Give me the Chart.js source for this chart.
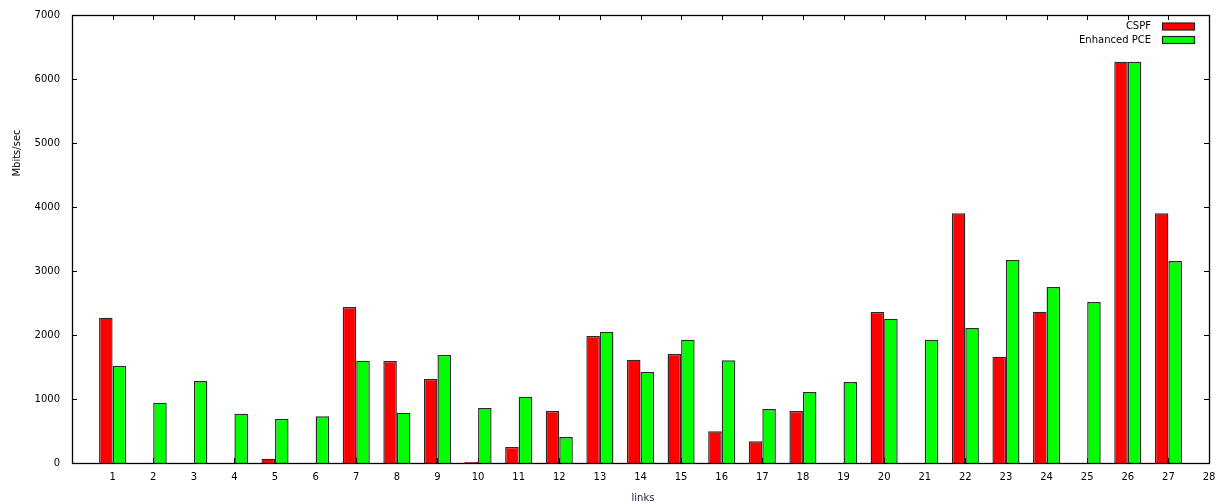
<!DOCTYPE html>
<html>
<head>
<meta charset="utf-8">
<script src="https://cdn.jsdelivr.net/npm/chart.js@4/dist/chart.umd.min.js"></script>
<style>
html,body{margin:0;padding:0;background:#fff;}
#wrap{width:1217px;height:504px;position:relative;}
</style>
</head>
<body>
<div id="wrap"><canvas id="c" width="1217" height="504"></canvas></div>
<script>
const links = [1,2,3,4,5,6,7,8,9,10,11,12,13,14,15,16,17,18,19,20,21,22,23,24,25,26,27];
const cspf = [2270,null,null,null,68,null,2437,1594,1313,15,250,812,1984,1615,1703,495,339,812,null,2359,null,3901,1661,2365,null,6271,3901];
const enhancedPce = [1520,942,1281,771,688,729,1599,786,1688,859,1036,406,2052,1422,1927,1604,844,1109,1266,2255,1927,2109,3172,2750,2516,6271,3156];
const seriesNames = ['CSPF','Enhanced PCE'];
const xTicks = [1,2,3,4,5,6,7,8,9,10,11,12,13,14,15,16,17,18,19,20,21,22,23,24,25,26,27,28];
const yTicks = [0,1000,2000,3000,4000,5000,6000,7000];
const xTitle = 'links';
const yTitle = 'Mbits/sec';

const FONT = 'DejaVu Sans';
Chart.defaults.font.family = FONT;
Chart.defaults.font.size = 10;
Chart.defaults.color = '#000';

function pts(vals){ return links.map((l,i)=>({x:l,y:vals[i]})); }

const frame = {
  id:'frame',
  beforeDatasetsDraw(chart){
    const {ctx, chartArea:a, scales:{x,y}} = chart;
    ctx.save();
    ctx.strokeStyle='#000'; ctx.lineWidth=1;
    ctx.beginPath();
    xTicks.forEach(v=>{
      const px=Math.round(x.getPixelForValue(v))+0.5;
      ctx.moveTo(px,a.top); ctx.lineTo(px,a.top+5);
      ctx.moveTo(px,a.bottom); ctx.lineTo(px,a.bottom-5);
    });
    yTicks.forEach(v=>{
      const py=Math.round(y.getPixelForValue(v))+0.5;
      ctx.moveTo(a.left,py); ctx.lineTo(a.left+5,py);
      ctx.moveTo(a.right,py); ctx.lineTo(a.right-5,py);
    });
    ctx.stroke();
    ctx.restore();
  },
  afterDatasetsDraw(chart){
    const {ctx, chartArea:a} = chart;
    ctx.save();
    ctx.strokeStyle='#000'; ctx.lineWidth=1.3;
    ctx.strokeRect(Math.round(a.left)+0.5, Math.round(a.top)+0.5, Math.round(a.right-a.left), Math.round(a.bottom-a.top));
    ctx.font = '10px '+FONT;
    ctx.fillStyle='#1a1a40'; ctx.textAlign='center'; ctx.textBaseline='middle';
    ctx.fillText(xTitle, 643, 498);
    ctx.save();
    ctx.translate(17,153); ctx.rotate(-Math.PI/2);
    ctx.fillStyle='#000';
    ctx.fillText(yTitle, 0, 0);
    ctx.restore();
    ctx.textAlign='right'; ctx.textBaseline='middle';
    const rows=[26.5,40];
    chart.data.datasets.forEach((ds,i)=>{
      const ry=rows[i];
      ctx.fillStyle='#000';
      ctx.fillText(ds.label, 1151, ry);
      ctx.fillStyle=ds.backgroundColor;
      ctx.fillRect(1162, ry-3.5, 32, 7);
      ctx.lineWidth=1.2; ctx.strokeStyle='#222';
      ctx.strokeRect(1162.5, ry-3.5, 32, 7);
    });
    ctx.restore();
  }
};

new Chart(document.getElementById('c'), {
  type:'bar',
  data:{
    datasets:[
      {label:seriesNames[0], data:pts(cspf), backgroundColor:'#ff0000', borderColor:'#2a2a2a', borderWidth:1.4, borderSkipped:'bottom', categoryPercentage:2/3, barPercentage:1},
      {label:seriesNames[1], data:pts(enhancedPce), backgroundColor:'#00ff00', borderColor:'#2a2a2a', borderWidth:1.4, borderSkipped:'bottom', categoryPercentage:2/3, barPercentage:1}
    ]
  },
  options:{
    responsive:false, animation:false,
    layout:{padding:{top:15,right:8,left:0,bottom:0}},
    plugins:{legend:{display:false}, tooltip:{enabled:false}},
    scales:{
      x:{
        type:'linear', min:0, max:28, offset:false,
        grid:{display:false, drawTicks:false}, border:{display:false},
        afterBuildTicks(s){ s.ticks = xTicks.map(v=>({value:v})); },
        afterFit(s){ s.height = 41; s.paddingLeft = 0; s.paddingRight = 0; },
        ticks:{padding:8, maxRotation:0, autoSkip:false, color:'#000', callback:(v)=>String(v)}
      },
      y:{
        min:0, max:7000,
        grid:{display:false, drawTicks:false}, border:{display:false},
        afterBuildTicks(s){ s.ticks = yTicks.map(v=>({value:v})); },
        afterFit(s){ s.width = 72; s.paddingTop = 0; s.paddingBottom = 0; },
        ticks:{padding:12, color:'#000', callback:(v)=>String(v)}
      }
    }
  },
  plugins:[frame]
});
</script>
</body>
</html>
